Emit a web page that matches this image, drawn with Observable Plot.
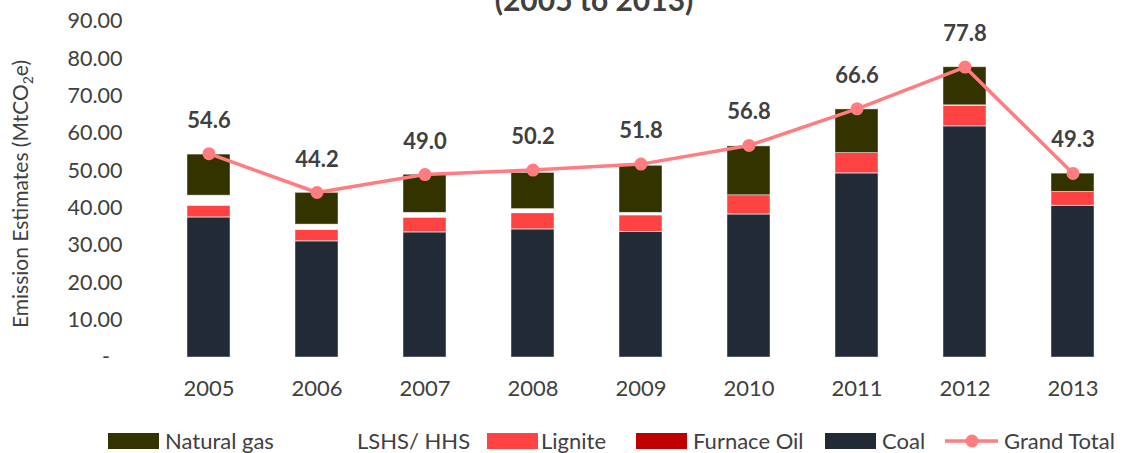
<!DOCTYPE html>
<html>
<head>
<meta charset="utf-8">
<script src="https://cdn.jsdelivr.net/npm/d3@7"></script>
<script src="https://cdn.jsdelivr.net/npm/@observablehq/plot@0.6"></script>
<style>
  html, body { margin: 0; padding: 0; background: #fff; }
  body { width: 1125px; height: 453px; position: relative; overflow: hidden; font-family: Lato, "Open Sans", sans-serif; }
  #chart { position: absolute; left: 0; top: 0; }
  #title { position: absolute; left: 0; top: 0; }
  #legend { position: absolute; left: 0; top: 0; width: 1125px; height: 453px; pointer-events: none; }
  .lg-sw { position: absolute; }
  .lg-tx { position: absolute; font-size: 22px; color: #404040; line-height: 1; white-space: nowrap; }
</style>
</head>
<body>
<div id="chart"></div>
<div id="legend"></div>
<script>
// ---- data ----
const years = ["2005", "2006", "2007", "2008", "2009", "2010", "2011", "2012", "2013"];
const coal = [37.5, 31.1, 33.5, 34.3, 33.6, 38.3, 49.3, 61.9, 40.6];
const furnaceOil = [0.05, 0.05, 0.05, 0.05, 0.05, 0.05, 0.05, 0.05, 0.05];
const lignite = [3.1, 3.05, 3.9, 4.3, 4.4, 5.1, 5.4, 5.5, 3.7];
const lshsHhs = [2.7, 1.4, 1.3, 1.1, 0.7, 0.0, 0.0, 0.1, 0.0];
const naturalGas = [11.0, 8.5, 10.2, 9.7, 12.6, 13.1, 11.7, 10.2, 4.9];
const grandTotal = [54.6, 44.2, 49.0, 50.2, 51.8, 56.8, 66.6, 77.8, 49.3];
const fuels = ["Natural gas", "LSHS/ HHS", "Lignite", "Furnace Oil", "Coal"];
const fuelColors = ["#333300", "#ffffff", "#ff4343", "#c00000", "#222a35"];
const yTicks = [0, 10, 20, 30, 40, 50, 60, 70, 80, 90];
const titleText = "(2005 to 2013)";

// ---- tables ----
const series = {"Natural gas": naturalGas, "LSHS/ HHS": lshsHhs, "Lignite": lignite, "Furnace Oil": furnaceOil, "Coal": coal};
const stackOrder = ["Coal", "Furnace Oil", "Lignite", "LSHS/ HHS", "Natural gas"];
const rows = [];
for (const f of stackOrder) years.forEach((y, i) => rows.push({year: y, fuel: f, value: series[f][i]}));
const totals = years.map((y, i) => ({year: y, total: grandTotal[i]}));

const FONT = "Lato, 'Open Sans', sans-serif";
const TXT = "#404040";

const plot = Plot.plot({
  width: 1125,
  height: 420,
  marginTop: 21,
  marginBottom: 63,
  marginLeft: 161.5,
  marginRight: 6,
  style: {fontFamily: FONT, background: "transparent", overflow: "visible"},
  x: {domain: years, paddingInner: 0.6, paddingOuter: 0.2, align: 0.5, label: null},
  y: {domain: [0, 90], label: null},
  color: {domain: fuels, range: fuelColors},
  marks: [
    Plot.barY(rows, Plot.stackY({x: "year", y: "value", fill: "fuel", order: stackOrder, stroke: "#ffffff", strokeWidth: 0.8, strokeOpacity: 0.55})),
    Plot.line(totals, {x: "year", y: "total", stroke: "#ff7c80", strokeWidth: 3.5}),
    Plot.dot(totals, {x: "year", y: "total", r: 6.5, fill: "#ff7c80", stroke: "none"}),
    Plot.text(totals, {x: "year", y: "total", text: d => d.total.toFixed(1), dy: -33, fontSize: 22, fontWeight: "bold", fill: TXT}),
    Plot.axisX({tickSize: 0, tickPadding: 23, fontSize: 22, fill: TXT, label: null}),
    Plot.axisY(yTicks, {tickSize: 0, tickPadding: 39.5, fontSize: 21.5, fill: TXT, label: null,
      tickFormat: d => d === 0 ? "-\u2007" : d.toFixed(2)})
  ]
});
document.getElementById("chart").appendChild(plot);

// y axis title with subscript
const svg = d3.select(plot);
const yl = svg.append("text")
  .attr("transform", "translate(28,194) rotate(-90)")
  .attr("text-anchor", "middle")
  .attr("font-family", FONT)
  .attr("font-size", 21)
  .attr("fill", TXT);
yl.append("tspan").text("Emission Estimates (MtCO");
yl.append("tspan").attr("font-size", 14).attr("dy", 5).text("2");
yl.append("tspan").attr("dy", -5).text("e)");

// title (first line lies above the visible frame, as in the reference)
const tsvg = d3.select("body").append("svg").attr("id", "title")
  .attr("width", 1125).attr("height", 40);
tsvg.append("text").attr("x", 594).attr("y", 11)
  .attr("text-anchor", "middle").attr("font-family", FONT)
  .attr("font-size", 30).attr("font-weight", "bold").attr("fill", TXT)
  .text(titleText);

// legend
const color = plot.scale("color");
const lg = d3.select("#legend");
const legendItems = [
  {name: "Natural gas", sw: 108, tx: 165},
  {name: "LSHS/ HHS", sw: 300, tx: 357},
  {name: "Lignite", sw: 487, tx: 541},
  {name: "Furnace Oil", sw: 636, tx: 693},
  {name: "Coal", sw: 825, tx: 882}
];
for (const it of legendItems) {
  lg.append("div").attr("class", "lg-sw")
    .style("left", it.sw + "px").style("top", "433px")
    .style("width", "51px").style("height", "16px")
    .style("background", color.apply(it.name));
  lg.append("div").attr("class", "lg-tx")
    .style("left", it.tx + "px").style("top", "430px").text(it.name);
}
const lsvg = lg.append("svg").style("position", "absolute").style("left", "0px").style("top", "0px")
  .attr("width", 1125).attr("height", 453);
lsvg.append("line").attr("x1", 945).attr("x2", 998).attr("y1", 441).attr("y2", 441)
  .attr("stroke", "#ff7c80").attr("stroke-width", 3.5);
lsvg.append("circle").attr("cx", 972).attr("cy", 441).attr("r", 6.5).attr("fill", "#ff7c80");
lg.append("div").attr("class", "lg-tx").style("left", "1004px").style("top", "430px").text("Grand Total");
</script>
</body>
</html>
